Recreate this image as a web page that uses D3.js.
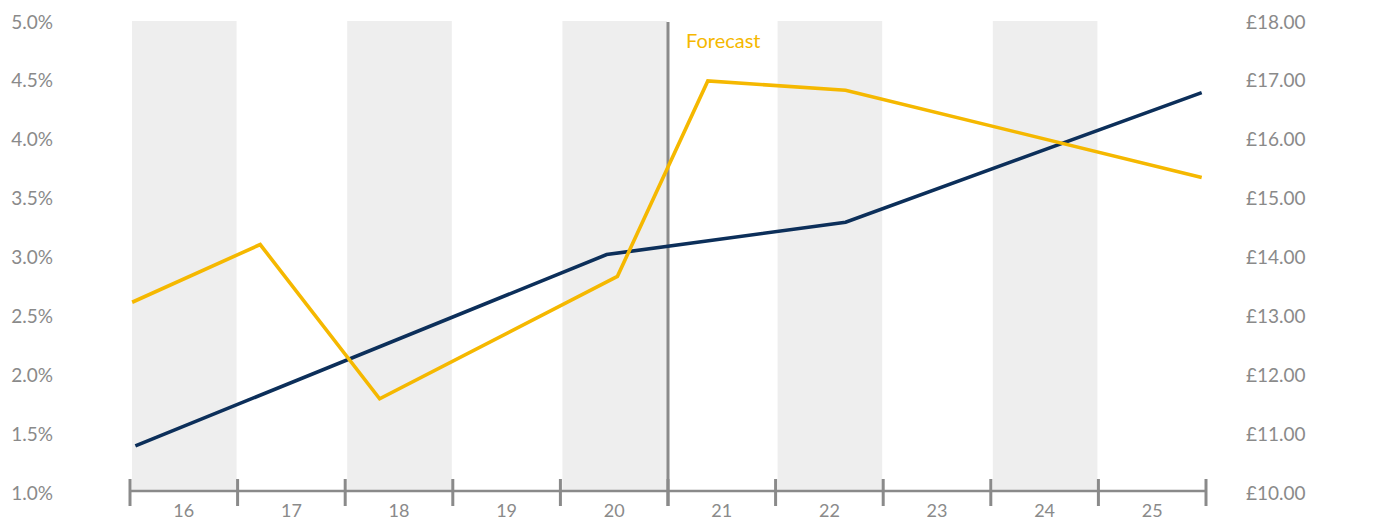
<!DOCTYPE html>
<html>
<head>
<meta charset="utf-8">
<script src="https://cdn.jsdelivr.net/npm/d3@7"></script>
<style>
  html, body { margin: 0; padding: 0; background: #fff; }
  svg { display: block; font-family: Lato, "Noto Sans", sans-serif; }
</style>
</head>
<body>
<svg id="chart" width="1381" height="522"></svg>
<script>
// Years shown along the bottom (two-digit labels)
const years = ["16", "17", "18", "19", "20", "21", "22", "23", "24", "25"];
const forecastFrom = "21";

// Left axis: percentage rate
const pctTicks = [1.0, 1.5, 2.0, 2.5, 3.0, 3.5, 4.0, 4.5, 5.0];
// Right axis: pounds
const gbpTicks = [10, 11, 12, 13, 14, 15, 16, 17, 18];

// Rate series (left axis), x as decimal year
const rateDates  = [2016.02, 2017.21, 2018.32, 2020.53, 2021.37, 2022.65, 2025.96];
const rateValues = [2.62, 3.11, 1.80, 2.84, 4.50, 4.42, 3.68];

// Pound series (right axis), x as decimal year
const gbpDates  = [2016.05, 2020.43, 2022.65, 2025.96];
const gbpValues = [10.80, 14.05, 14.60, 16.80];

const svg = d3.select("#chart");
const plotLeft = 130, plotRight = 1206, plotTop = 22, axisY = 491;

const band = d3.scaleBand().domain(years).range([plotLeft, plotRight]).paddingInner(0).paddingOuter(0);
const xTime = d3.scaleLinear().domain([2016, 2026]).range([plotLeft, plotRight]);
const yPct = d3.scaleLinear().domain([1, 5]).range([493, 22]);
const yGbp = d3.scaleLinear().domain([10, 18]).range([493, 22]);

const grey = "#8a8a8a";
const navy = "#0c2f5a";
const gold = "#f5b800";

// Alternating shaded year columns
svg.append("g").selectAll("rect")
  .data(years.filter((d, i) => i % 2 === 0))
  .join("rect")
  .attr("x", d => band(d) + 2)
  .attr("y", plotTop - 1)
  .attr("width", band.bandwidth() - 3)
  .attr("height", axisY - plotTop + 1)
  .attr("fill", "#eeeeee");

// Left percentage axis
const yl = svg.append("g")
  .attr("transform", "translate(53,0)")
  .call(d3.axisLeft(yPct).tickValues(pctTicks).tickSize(0).tickPadding(0)
    .tickFormat(d => d3.format(".1f")(d) + "%"));
yl.select(".domain").remove();
yl.selectAll("text").attr("fill", grey).style("font-size", "19px").style("font-family", "Lato, sans-serif");

// Right pounds axis
const yr = svg.append("g")
  .attr("transform", "translate(1246,0)")
  .call(d3.axisRight(yGbp).tickValues(gbpTicks).tickSize(0).tickPadding(0)
    .tickFormat(d => "£" + d3.format(".2f")(d)));
yr.select(".domain").remove();
yr.selectAll("text").attr("fill", grey).style("font-size", "19px").style("font-family", "Lato, sans-serif");

// Bottom axis line and year labels
svg.append("line")
  .attr("x1", plotLeft).attr("x2", plotRight)
  .attr("y1", axisY).attr("y2", axisY)
  .attr("stroke", grey).attr("stroke-width", 2.5);

const xb = svg.append("g")
  .attr("transform", `translate(0,${axisY})`)
  .call(d3.axisBottom(band).tickSize(0).tickPadding(13));
xb.select(".domain").remove();
xb.selectAll("text").attr("fill", grey).style("font-size", "18px").style("font-family", "Lato, sans-serif");

// Boundary ticks between years
const bounds = years.map(d => band(d)).concat([band(years[years.length - 1]) + band.bandwidth()]);
svg.append("g").selectAll("line")
  .data(bounds)
  .join("line")
  .attr("x1", d => d).attr("x2", d => d)
  .attr("y1", 479).attr("y2", 506)
  .attr("stroke", grey).attr("stroke-width", 3);

// Forecast divider
const fx = band(forecastFrom);
svg.append("line")
  .attr("x1", fx).attr("x2", fx)
  .attr("y1", plotTop).attr("y2", 506)
  .attr("stroke", grey).attr("stroke-width", 3);
svg.append("text")
  .attr("x", fx + 18).attr("y", 48)
  .attr("fill", gold)
  .style("font-size", "20px")
  .text("Forecast");

// Series lines
const rateLine = d3.line().x(d => xTime(d[0])).y(d => yPct(d[1]));
const gbpLine = d3.line().x(d => xTime(d[0])).y(d => yGbp(d[1]));

svg.append("path")
  .datum(d3.zip(gbpDates, gbpValues))
  .attr("d", gbpLine)
  .attr("fill", "none").attr("stroke", navy).attr("stroke-width", 3.6);

svg.append("path")
  .datum(d3.zip(rateDates, rateValues))
  .attr("d", rateLine)
  .attr("fill", "none").attr("stroke", gold).attr("stroke-width", 3.6);
</script>
</body>
</html>
